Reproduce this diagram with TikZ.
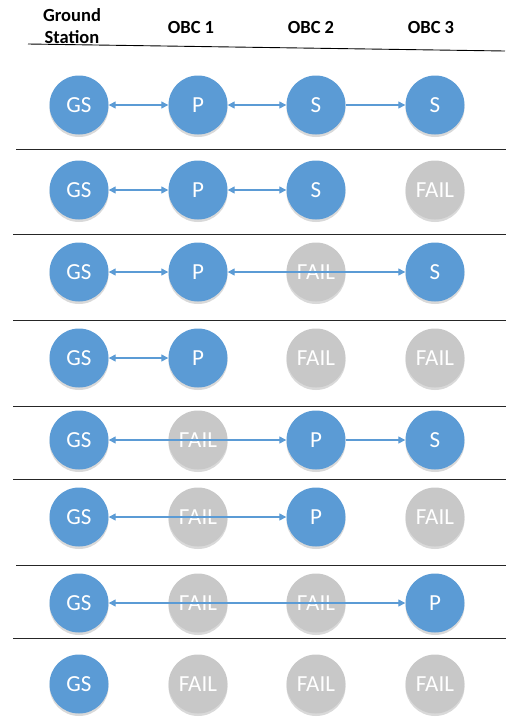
\documentclass[tikz,border=0pt]{standalone}
\usepackage{fontspec}
\setmainfont{Carlito}
\usetikzlibrary{arrows.meta,shadows}
\definecolor{obcblue}{HTML}{5B9BD5}
\definecolor{failgray}{HTML}{C8C8C8}
\tikzset{
  unit/.style={circle, minimum size=59pt, inner sep=0pt, text=white,
    font=\fontsize{23}{25}\selectfont,
    drop shadow={shadow xshift=0pt, shadow yshift=-2.5pt, opacity=0.25, fill=black!60}},
  okunit/.style={unit, fill=obcblue},
  failunit/.style={unit, fill=failgray},
  hdr/.style={font=\fontsize{18.5}{22.5}\selectfont\bfseries, align=center},
  sep/.style={line width=1.3pt, draw=black!85},
  link/.style={draw=obcblue, line width=1.3pt},
  both/.style={link, {Triangle[length=7pt,width=7pt]}-{Triangle[length=7pt,width=7pt]}},
  one/.style={link, -{Triangle[length=7pt,width=7pt]}}
}
\begin{document}
\begin{tikzpicture}[x=1pt,y=-1pt]
\useasboundingbox (0,0) rectangle (508,724);
% header
\node[hdr] (hgs) at (72,26) {Ground\\Station};
\node[hdr] (h1) at (191,27) {OBC 1};
\node[hdr] (h2) at (311,27) {OBC 2};
\node[hdr] (h3) at (431,27) {OBC 3};
\coordinate (hl) at (28,44);
\coordinate (hr) at (505,51);
\draw[line width=0.9pt] (hl) -- (hr);
% separators
\foreach \y/\xa in {149.3/16,234.7/13,320.7/13,406.3/13,479.7/13,565.7/16,638.7/13}{
  \draw[sep] (\xa,\y) -- (506,\y);
}
% row 1
\node[okunit] (a0) at (79,105) {GS};
\node[okunit] (a1) at (198,105) {P};
\node[okunit] (a2) at (316,105) {S};
\node[okunit] (a3) at (435,105) {S};
\draw[both] (a0) -- (a1);
\draw[both] (a1) -- (a2);
\draw[one] (a2) -- (a3);
% row 2
\node[okunit] (b0) at (79,190) {GS};
\node[okunit] (b1) at (198,190) {P};
\node[okunit] (b2) at (316,190) {S};
\node[failunit] (b3) at (435,190) {FAIL};
\draw[both] (b0) -- (b1);
\draw[both] (b1) -- (b2);
% row 3
\node[okunit] (c0) at (79,272) {GS};
\node[okunit] (c1) at (198,272) {P};
\node[failunit] (c2) at (316,272) {FAIL};
\node[okunit] (c3) at (435,272) {S};
\draw[both] (c0) -- (c1);
\draw[both] (c1) -- (c3);
% row 4
\node[okunit] (d0) at (79,358) {GS};
\node[okunit] (d1) at (198,358) {P};
\node[failunit] (d2) at (316,358) {FAIL};
\node[failunit] (d3) at (435,358) {FAIL};
\draw[both] (d0) -- (d1);
% row 5
\node[okunit] (e0) at (79,440) {GS};
\node[failunit] (e1) at (198,440) {FAIL};
\node[okunit] (e2) at (316,440) {P};
\node[okunit] (e3) at (435,440) {S};
\draw[both] (e0) -- (e2);
\draw[one] (e2) -- (e3);
% row 6
\node[okunit] (f0) at (79,517) {GS};
\node[failunit] (f1) at (198,517) {FAIL};
\node[okunit] (f2) at (316,517) {P};
\node[failunit] (f3) at (435,517) {FAIL};
\draw[both] (f0) -- (f2);
% row 7
\node[okunit] (g0) at (79,603) {GS};
\node[failunit] (g1) at (198,603) {FAIL};
\node[failunit] (g2) at (316,603) {FAIL};
\node[okunit] (g3) at (435,603) {P};
\draw[both] (g0) -- (g3);
% row 8
\node[okunit] (k0) at (79,684) {GS};
\node[failunit] (k1) at (198,684) {FAIL};
\node[failunit] (k2) at (316,684) {FAIL};
\node[failunit] (k3) at (435,684) {FAIL};
\end{tikzpicture}
\end{document}
